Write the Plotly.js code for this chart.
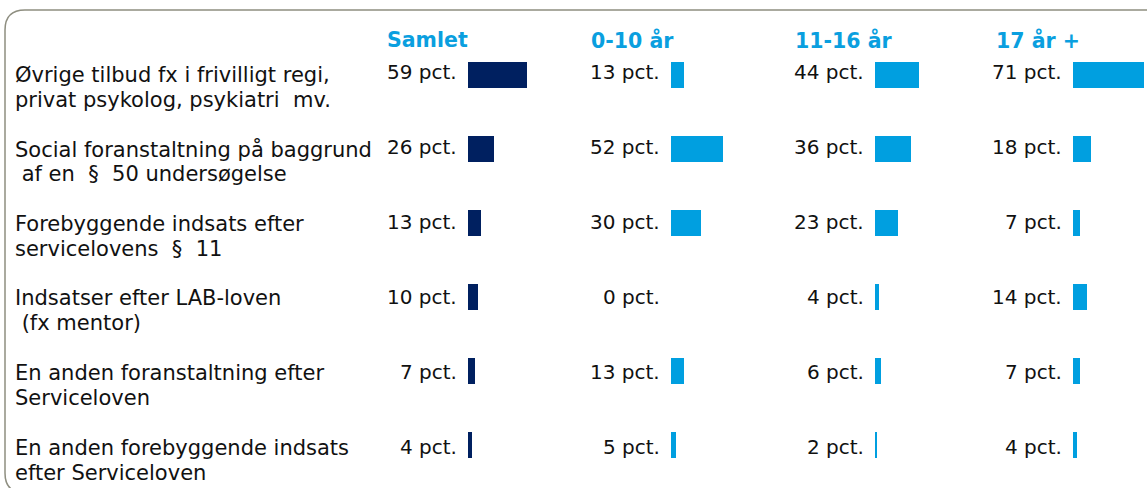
<!DOCTYPE html>
<html><head><meta charset="utf-8">
<script src="https://cdn.plot.ly/plotly-3.0.1.min.js"></script>
<style>html,body{margin:0;padding:0;background:#fff}#chart{width:1147px;height:488px}</style>
</head><body><div id="chart"></div>
<script>
// ---- data ----
const groups = ["Samlet", "0-10 år", "11-16 år", "17 år +"];
const categories = [
  ["Øvrige tilbud fx i frivilligt regi,", "privat psykolog, psykiatri  mv."],
  ["Social foranstaltning på baggrund", " af en  §  50 undersøgelse"],
  ["Forebyggende indsats efter", "servicelovens  §  11"],
  ["Indsatser efter LAB-loven", " (fx mentor)"],
  ["En anden foranstaltning efter", "Serviceloven"],
  ["En anden forebyggende indsats", "efter Serviceloven"]
];
const samlet  = [59, 26, 13, 10, 7, 4];
const age0_10 = [13, 52, 30, 0, 13, 5];
const age11_16 = [44, 36, 23, 4, 6, 2];
const age17p  = [71, 18, 7, 14, 7, 4];
const series = [samlet, age0_10, age11_16, age17p];
const unit = " pct.";

// ---- layout (pixel-space axes) ----
const W = 1147, H = 488;
const colStart = [468, 671, 875, 1073];
const headerX = [427.5, 632, 844, 1038];
const barY = categories.map((_, i) => 75 + 74 * i);
const textY = categories.map((_, i) => 72 + 75 * i);
const labelY = categories.map((_, i) => 74.5 + 74.6 * i);
const colors = ["#002060", "#009FE0", "#009FE0", "#009FE0"];
const FONT = "DejaVu Sans, Verdana, sans-serif";

const traces = series.map((vals, c) => ({
  type: "bar", orientation: "h",
  x: vals, y: barY, base: colStart[c],
  width: 26,
  marker: {color: colors[c], line: {width: 0}},
  hoverinfo: "skip", showlegend: false
}));

const annotations = [];
groups.forEach((g, c) => annotations.push({
  x: headerX[c], y: 40, xref: "x", yref: "y", text: "<b>" + g + "</b>",
  showarrow: false, xanchor: "center", yanchor: "middle",
  font: {family: FONT, size: 20.5, color: "#0A9FDF"}
}));
series.forEach((vals, c) => vals.forEach((v, i) => annotations.push({
  x: colStart[c] - 9, y: textY[i], xref: "x", yref: "y", text: v + unit,
  showarrow: false, xanchor: "right", yanchor: "middle",
  font: {family: FONT, size: 20, color: "#111"}
})));
categories.forEach((lines, i) => lines.forEach((t, k) => annotations.push({
  x: 13, y: labelY[i] + 25 * k, xref: "x", yref: "y", text: t.replace(/ /g, "&nbsp;"), align: "left",
  showarrow: false, xanchor: "left", yanchor: "middle",
  font: {family: FONT, size: 21, color: "#111"}
})));

const r = 20, bottom = 493;
const border = `M ${W + 10} ${bottom} L ${5 + r} ${bottom} Q 5 ${bottom} 5 ${bottom - r} L 5 ${10 + r} Q 5 10 ${5 + r} 10 L ${W + 10} 10`;

const layout = {
  width: W, height: H, margin: {l: 0, r: 0, t: 0, b: 0},
  paper_bgcolor: "#fff", plot_bgcolor: "#fff",
  barmode: "overlay",
  xaxis: {range: [0, W], visible: false, fixedrange: true},
  yaxis: {range: [H, 0], visible: false, fixedrange: true},
  annotations: annotations,
  shapes: [{type: "path", xref: "x", yref: "y", path: border,
            line: {color: "#8E8E80", width: 1.5}}]
};
Plotly.newPlot("chart", traces, layout, {staticPlot: true});
</script></body></html>
